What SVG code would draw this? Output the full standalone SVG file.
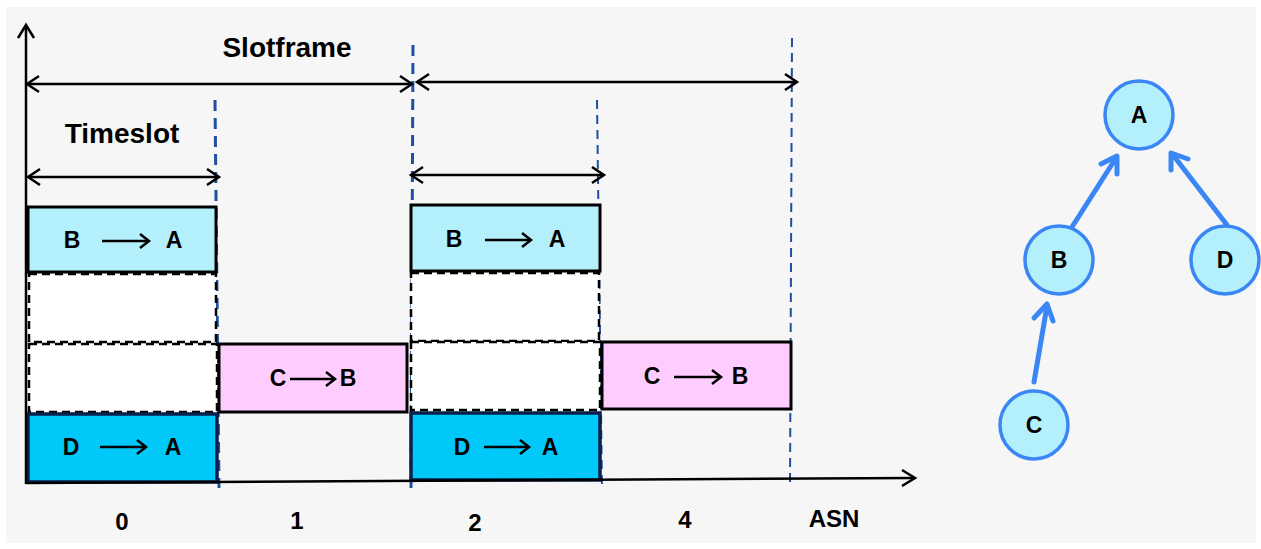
<svg xmlns="http://www.w3.org/2000/svg" width="1261" height="549" viewBox="0 0 1261 549">
<defs>
<style>
.t{font-family:"Liberation Sans",Arial,sans-serif;font-weight:bold;fill:#000;text-anchor:middle}
.big{font-size:28px}
.lbl{font-size:23px}
.ax{font-size:24px}
.ax2{stroke:#000;stroke-width:2.5;fill:none}
.dim{stroke:#000;stroke-width:2.5;fill:none}
.grid{stroke:#1f4fa0;stroke-width:2;stroke-dasharray:9,6;fill:none}
.gridb{stroke:#1f4fa0;stroke-width:3;stroke-dasharray:11,7;fill:none}
.lt{fill:#b4effc;stroke:#000;stroke-width:3}
.dk{fill:#00c8f8;stroke:#0a1f4a;stroke-width:3.5}
.pk{fill:#ffccff;stroke:#000;stroke-width:3}
.em{fill:#fff;stroke:#000;stroke-width:2.5;stroke-dasharray:8,5}
.arr{stroke:#000;stroke-width:2.5;fill:none}
.node circle{fill:#b4effc;stroke:#3a86f4;stroke-width:3.5}
.edge{stroke:#3a86f4;stroke-width:5;fill:none;stroke-linecap:round;stroke-linejoin:round}
</style>
</defs>
<rect x="0" y="0" width="1261" height="549" fill="#ffffff"/>
<rect x="6" y="7" width="1250" height="536" fill="#f6f6f6"/>

<!-- dashed grid lines -->
<g id="grid">
<line class="gridb" x1="215" y1="100" x2="219" y2="488"/>
<line class="gridb" x1="413" y1="45" x2="411" y2="492"/>
<line class="grid" x1="597" y1="100" x2="602" y2="488"/>
<line class="grid" x1="792" y1="38" x2="790" y2="486"/>
</g>

<!-- boxes -->
<g id="slot0">
<rect class="lt" x="28" y="207" width="188" height="65"/>
<rect class="em" x="29" y="274" width="187" height="68"/>
<rect class="em" x="29" y="344" width="188" height="68"/>
<rect class="dk" x="28" y="414" width="189" height="68"/>
</g>
<g id="slot1">
<rect class="pk" x="219" y="344" width="188" height="68"/>
</g>
<g id="slot2">
<rect class="lt" x="411" y="205" width="189" height="66"/>
<rect class="em" x="411" y="273" width="188" height="68"/>
<rect class="em" x="411" y="342" width="189" height="68"/>
<rect class="dk" x="411" y="413" width="189" height="67"/>
</g>
<g id="slot4">
<rect class="pk" x="602" y="342" width="189" height="67"/>
</g>

<!-- axes -->
<g id="axes">
<line class="ax2" x1="26" y1="484" x2="26" y2="26"/>
<polyline class="ax2" points="18,38 26,25 34,38"/>
<line class="ax2" x1="26" y1="483" x2="915" y2="478"/>
<polyline class="ax2" points="902,470 915,478 902,486"/>
</g>

<!-- dimension arrows -->
<g id="dims">
<line class="dim" x1="27" y1="84" x2="412" y2="84"/>
<polyline class="dim" points="39,76 27,84 39,92"/>
<polyline class="dim" points="400,76 412,84 400,92"/>
<line class="dim" x1="417" y1="82" x2="797" y2="82"/>
<polyline class="dim" points="429,74 417,82 429,90"/>
<polyline class="dim" points="785,74 797,82 785,90"/>
<line class="dim" x1="28" y1="177" x2="219" y2="177"/>
<polyline class="dim" points="40,169 28,177 40,185"/>
<polyline class="dim" points="207,169 219,177 207,185"/>
<line class="dim" x1="411" y1="175" x2="604" y2="175"/>
<polyline class="dim" points="423,167 411,175 423,183"/>
<polyline class="dim" points="592,167 604,175 592,183"/>
</g>

<text class="t big" x="287" y="57">Slotframe</text>
<text class="t big" x="122" y="143">Timeslot</text>

<!-- box labels -->
<g id="labels">
<text class="t lbl" x="72" y="248">B</text>
<line class="arr" x1="102" y1="241" x2="149" y2="241"/><polyline class="arr" points="140,234 149,241 140,248"/>
<text class="t lbl" x="174" y="248">A</text>

<text class="t lbl" x="71" y="455">D</text>
<line class="arr" x1="100" y1="447" x2="146" y2="447"/><polyline class="arr" points="137,440 146,447 137,454"/>
<text class="t lbl" x="173" y="455">A</text>

<text class="t lbl" x="278" y="386">C</text>
<line class="arr" x1="290" y1="379" x2="335" y2="379"/><polyline class="arr" points="326,372 335,379 326,386"/>
<text class="t lbl" x="348" y="386">B</text>

<text class="t lbl" x="454" y="247">B</text>
<line class="arr" x1="485" y1="240" x2="531" y2="240"/><polyline class="arr" points="522,233 531,240 522,247"/>
<text class="t lbl" x="557" y="247">A</text>

<text class="t lbl" x="462" y="455">D</text>
<line class="arr" x1="484" y1="447" x2="529" y2="447"/><polyline class="arr" points="520,440 529,447 520,454"/>
<text class="t lbl" x="550" y="455">A</text>

<text class="t lbl" x="652" y="384">C</text>
<line class="arr" x1="674" y1="377" x2="721" y2="377"/><polyline class="arr" points="712,370 721,377 712,384"/>
<text class="t lbl" x="740" y="384">B</text>
</g>

<!-- axis labels -->
<g id="ticks">
<text class="t ax" x="122" y="530">0</text>
<text class="t ax" x="297" y="529">1</text>
<text class="t ax" x="475" y="531">2</text>
<text class="t ax" x="685" y="528">4</text>
<text class="t ax" x="834" y="527">ASN</text>
</g>

<!-- tree connectors -->
<g id="connectors">
<line class="edge" x1="1072" y1="227" x2="1116" y2="158"/>
<polyline class="edge" points="1101,164 1117,156 1117,174"/>
<line class="edge" x1="1227" y1="225" x2="1173" y2="155"/>
<polyline class="edge" points="1171,170 1171,153 1188,159"/>
<line class="edge" x1="1034" y1="382" x2="1047" y2="306"/>
<polyline class="edge" points="1034,318 1047,304 1053,321"/>
</g>

<!-- tree nodes -->
<g id="node-A" class="node"><circle cx="1139" cy="115" r="34"/><text class="t lbl" x="1139" y="123">A</text></g>
<g id="node-B" class="node"><circle cx="1059" cy="260" r="34"/><text class="t lbl" x="1059" y="268">B</text></g>
<g id="node-D" class="node"><circle cx="1225" cy="260" r="34"/><text class="t lbl" x="1225" y="268">D</text></g>
<g id="node-C" class="node"><circle cx="1034" cy="425" r="34"/><text class="t lbl" x="1034" y="433">C</text></g>
</svg>
